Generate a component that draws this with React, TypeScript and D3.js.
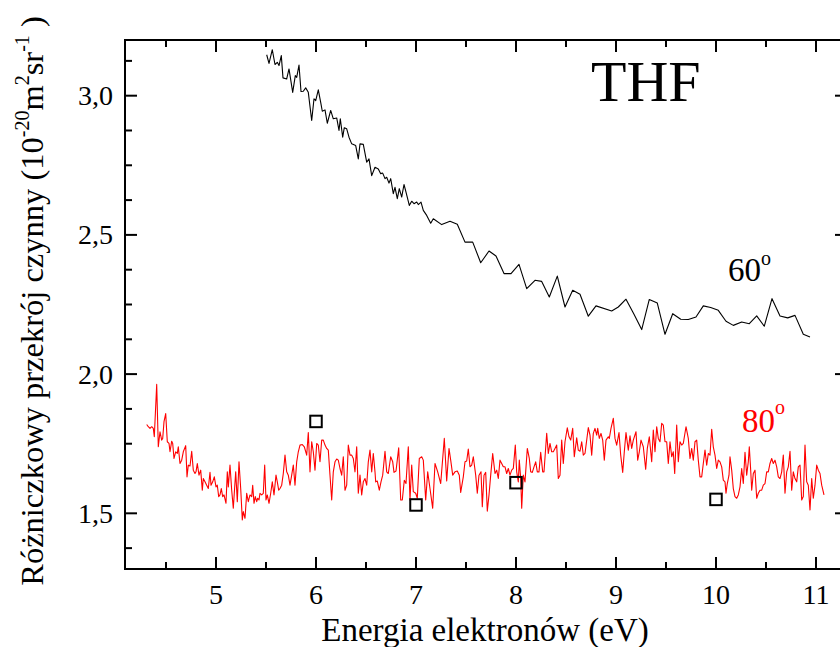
import React from 'react';
import * as d3 from 'd3';

// 60° series (black): [energy eV, cross section]
const black60: [number, number][] = [
  [5.507, 3.147], [5.53, 3.116], [5.563, 3.165], [5.59, 3.112], [5.613, 3.12], [5.63, 3.108],
  [5.653, 3.144], [5.67, 3.064], [5.707, 3.06], [5.73, 3.096], [5.767, 3.012], [5.793, 3.072],
  [5.807, 3.066], [5.83, 3.11], [5.85, 3.015], [5.873, 3.016], [5.897, 3.028], [5.923, 3.012],
  [5.957, 2.911], [5.98, 2.989], [5.997, 2.982], [6.023, 3.021], [6.047, 2.976], [6.063, 2.944],
  [6.09, 2.949], [6.113, 2.901], [6.147, 2.947], [6.173, 2.917], [6.207, 2.92], [6.23, 2.875],
  [6.243, 2.917], [6.267, 2.851], [6.283, 2.885], [6.307, 2.881], [6.33, 2.851], [6.357, 2.827],
  [6.397, 2.821], [6.423, 2.773], [6.44, 2.827], [6.473, 2.825], [6.507, 2.761], [6.53, 2.773],
  [6.557, 2.713], [6.59, 2.743], [6.623, 2.737], [6.647, 2.72], [6.667, 2.722], [6.69, 2.702],
  [6.707, 2.707], [6.73, 2.686], [6.747, 2.702], [6.773, 2.648], [6.79, 2.671], [6.813, 2.63],
  [6.833, 2.666], [6.857, 2.636], [6.88, 2.681], [6.9, 2.654], [6.933, 2.606], [6.957, 2.621],
  [6.98, 2.612], [7.007, 2.618], [7.023, 2.609], [7.05, 2.618], [7.073, 2.588], [7.107, 2.57],
  [7.147, 2.542], [7.173, 2.558], [7.257, 2.537], [7.34, 2.549], [7.413, 2.538], [7.49, 2.474],
  [7.567, 2.474], [7.647, 2.4], [7.73, 2.442], [7.8, 2.424], [7.88, 2.361], [7.95, 2.361],
  [8.03, 2.394], [8.107, 2.307], [8.19, 2.337], [8.257, 2.333], [8.333, 2.277], [8.413, 2.352],
  [8.49, 2.241], [8.567, 2.301], [8.64, 2.287], [8.723, 2.208], [8.8, 2.245], [8.957, 2.227],
  [9.023, 2.241], [9.1, 2.269], [9.18, 2.215], [9.257, 2.16], [9.333, 2.268], [9.413, 2.255],
  [9.49, 2.143], [9.567, 2.217], [9.647, 2.197], [9.723, 2.196], [9.8, 2.205], [9.873, 2.245],
  [9.947, 2.239], [10.023, 2.229], [10.1, 2.19], [10.173, 2.175], [10.257, 2.187], [10.333, 2.181],
  [10.407, 2.209], [10.483, 2.172], [10.56, 2.271], [10.64, 2.209], [10.717, 2.202], [10.79, 2.211],
  [10.873, 2.143], [10.94, 2.133],
];

// 80° series (red): [energy eV, cross section]
const red80: [number, number][] = [
  [4.307, 1.819], [4.323, 1.811], [4.34, 1.805], [4.357, 1.811], [4.373, 1.805], [4.383, 1.775],
  [4.407, 1.963], [4.423, 1.739], [4.44, 1.793], [4.457, 1.763], [4.467, 1.769], [4.48, 1.829],
  [4.497, 1.858], [4.513, 1.757], [4.53, 1.751], [4.54, 1.721], [4.557, 1.759], [4.567, 1.751],
  [4.58, 1.697], [4.597, 1.721], [4.613, 1.715], [4.623, 1.739], [4.64, 1.679], [4.657, 1.691],
  [4.673, 1.721], [4.697, 1.743], [4.71, 1.631], [4.723, 1.673], [4.74, 1.67], [4.757, 1.723],
  [4.773, 1.655], [4.79, 1.643], [4.8, 1.649], [4.813, 1.679], [4.83, 1.637], [4.847, 1.655],
  [4.863, 1.583], [4.873, 1.625], [4.89, 1.613], [4.907, 1.601], [4.923, 1.589], [4.94, 1.647],
  [4.95, 1.601], [4.967, 1.613], [4.983, 1.631], [5.0, 1.595], [5.013, 1.601], [5.027, 1.56],
  [5.04, 1.566], [5.053, 1.589], [5.067, 1.56], [5.08, 1.566], [5.1, 1.536], [5.113, 1.649],
  [5.123, 1.595], [5.14, 1.673], [5.157, 1.583], [5.173, 1.518], [5.197, 1.649], [5.213, 1.542],
  [5.23, 1.685], [5.247, 1.589], [5.263, 1.476], [5.273, 1.506], [5.29, 1.482], [5.307, 1.572],
  [5.323, 1.542], [5.34, 1.566], [5.357, 1.56], [5.367, 1.601], [5.38, 1.536], [5.393, 1.56],
  [5.407, 1.542], [5.417, 1.554], [5.43, 1.548], [5.44, 1.572], [5.457, 1.566], [5.473, 1.572],
  [5.487, 1.673], [5.5, 1.548], [5.513, 1.566], [5.53, 1.536], [5.547, 1.572], [5.563, 1.613],
  [5.58, 1.566], [5.6, 1.637], [5.613, 1.613], [5.627, 1.583], [5.64, 1.589], [5.657, 1.601],
  [5.673, 1.643], [5.69, 1.709], [5.707, 1.649], [5.723, 1.637], [5.74, 1.601], [5.757, 1.637],
  [5.773, 1.673], [5.79, 1.601], [5.807, 1.685], [5.823, 1.721], [5.84, 1.745], [5.863, 1.747],
  [5.883, 1.739], [5.907, 1.709], [5.923, 1.79], [5.94, 1.649], [5.957, 1.757], [5.973, 1.721],
  [5.99, 1.655], [6.007, 1.751], [6.023, 1.745], [6.04, 1.685], [6.057, 1.763], [6.073, 1.763],
  [6.09, 1.745], [6.107, 1.733], [6.123, 1.727], [6.14, 1.637], [6.157, 1.548], [6.173, 1.649],
  [6.19, 1.685], [6.207, 1.695], [6.223, 1.691], [6.24, 1.661], [6.257, 1.637], [6.273, 1.703],
  [6.29, 1.583], [6.307, 1.601], [6.323, 1.745], [6.34, 1.709], [6.357, 1.709], [6.373, 1.697],
  [6.39, 1.649], [6.407, 1.739], [6.423, 1.572], [6.44, 1.637], [6.457, 1.566], [6.473, 1.613],
  [6.49, 1.625], [6.507, 1.601], [6.523, 1.685], [6.54, 1.727], [6.557, 1.649], [6.573, 1.715],
  [6.59, 1.649], [6.597, 1.613], [6.613, 1.616], [6.633, 1.583], [6.65, 1.613], [6.667, 1.637],
  [6.69, 1.723], [6.707, 1.649], [6.723, 1.643], [6.747, 1.703], [6.767, 1.685], [6.78, 1.647],
  [6.8, 1.652], [6.827, 1.735], [6.847, 1.548], [6.863, 1.548], [6.883, 1.619], [6.9, 1.607],
  [6.923, 1.739], [6.94, 1.548], [6.957, 1.673], [6.973, 1.578], [6.997, 1.572], [7.013, 1.554],
  [7.033, 1.697], [7.057, 1.703], [7.073, 1.691], [7.097, 1.548], [7.117, 1.649], [7.133, 1.607],
  [7.167, 1.518], [7.19, 1.679], [7.217, 1.649], [7.247, 1.607], [7.283, 1.769], [7.307, 1.616],
  [7.33, 1.733], [7.347, 1.691], [7.367, 1.637], [7.39, 1.649], [7.413, 1.652], [7.433, 1.637],
  [7.447, 1.575], [7.473, 1.631], [7.49, 1.685], [7.507, 1.688], [7.523, 1.731], [7.54, 1.667],
  [7.557, 1.673], [7.573, 1.703], [7.597, 1.637], [7.613, 1.572], [7.63, 1.637], [7.65, 1.649],
  [7.663, 1.524], [7.68, 1.637], [7.697, 1.647], [7.713, 1.508], [7.73, 1.566], [7.747, 1.637],
  [7.767, 1.715], [7.79, 1.643], [7.807, 1.655], [7.823, 1.625], [7.84, 1.691], [7.857, 1.679],
  [7.873, 1.667], [7.89, 1.667], [7.907, 1.643], [7.923, 1.661], [7.94, 1.637], [7.957, 1.655],
  [7.973, 1.661], [7.993, 1.745], [8.007, 1.649], [8.023, 1.613], [8.033, 1.691], [8.047, 1.625],
  [8.057, 1.518], [8.073, 1.637], [8.09, 1.613], [8.113, 1.733], [8.133, 1.697], [8.147, 1.649],
  [8.163, 1.647], [8.18, 1.667], [8.197, 1.685], [8.213, 1.649], [8.23, 1.649], [8.247, 1.719],
  [8.267, 1.649], [8.28, 1.649], [8.307, 1.787], [8.323, 1.715], [8.34, 1.751], [8.357, 1.721],
  [8.373, 1.721], [8.39, 1.733], [8.407, 1.745], [8.423, 1.625], [8.44, 1.637], [8.457, 1.763],
  [8.473, 1.679], [8.49, 1.757], [8.513, 1.807], [8.53, 1.775], [8.547, 1.763], [8.567, 1.805],
  [8.583, 1.703], [8.607, 1.771], [8.623, 1.727], [8.64, 1.723], [8.657, 1.757], [8.673, 1.709],
  [8.69, 1.715], [8.723, 1.808], [8.74, 1.781], [8.757, 1.709], [8.773, 1.787], [8.79, 1.805],
  [8.807, 1.781], [8.817, 1.805], [8.833, 1.769], [8.85, 1.787], [8.867, 1.763], [8.883, 1.691],
  [8.9, 1.763], [8.923, 1.775], [8.933, 1.769], [8.95, 1.805], [8.973, 1.841], [8.99, 1.769],
  [9.007, 1.745], [9.03, 1.79], [9.047, 1.709], [9.067, 1.647], [9.083, 1.721], [9.1, 1.79],
  [9.123, 1.727], [9.14, 1.778], [9.157, 1.733], [9.173, 1.763], [9.2, 1.793], [9.217, 1.691],
  [9.233, 1.721], [9.25, 1.763], [9.273, 1.739], [9.297, 1.658], [9.313, 1.733], [9.333, 1.775],
  [9.357, 1.685], [9.373, 1.799], [9.39, 1.721], [9.407, 1.811], [9.423, 1.769], [9.44, 1.757],
  [9.457, 1.823], [9.473, 1.817], [9.49, 1.757], [9.507, 1.757], [9.523, 1.679], [9.54, 1.757],
  [9.557, 1.703], [9.573, 1.721], [9.587, 1.643], [9.607, 1.817], [9.623, 1.685], [9.64, 1.757],
  [9.657, 1.745], [9.673, 1.751], [9.7, 1.811], [9.723, 1.769], [9.74, 1.697], [9.757, 1.733],
  [9.773, 1.691], [9.79, 1.757], [9.807, 1.763], [9.823, 1.691], [9.84, 1.631], [9.857, 1.631],
  [9.873, 1.679], [9.89, 1.727], [9.907, 1.673], [9.923, 1.715], [9.94, 1.709], [9.957, 1.802],
  [9.973, 1.739], [9.99, 1.709], [10.007, 1.661], [10.023, 1.691], [10.04, 1.685], [10.057, 1.667],
  [10.073, 1.619], [10.09, 1.613], [10.1, 1.572], [10.113, 1.607], [10.13, 1.637], [10.14, 1.703],
  [10.157, 1.655], [10.173, 1.589], [10.19, 1.56], [10.207, 1.554], [10.223, 1.566], [10.24, 1.595],
  [10.257, 1.661], [10.273, 1.607], [10.29, 1.719], [10.307, 1.637], [10.323, 1.685], [10.333, 1.739],
  [10.347, 1.655], [10.357, 1.583], [10.373, 1.643], [10.39, 1.655], [10.407, 1.554], [10.423, 1.572],
  [10.44, 1.583], [10.457, 1.583], [10.473, 1.601], [10.49, 1.607], [10.507, 1.649], [10.523, 1.649],
  [10.54, 1.679], [10.557, 1.697], [10.573, 1.679], [10.59, 1.691], [10.607, 1.667], [10.623, 1.631],
  [10.64, 1.625], [10.657, 1.649], [10.673, 1.709], [10.69, 1.572], [10.707, 1.649], [10.723, 1.667],
  [10.74, 1.723], [10.757, 1.583], [10.773, 1.649], [10.79, 1.625], [10.807, 1.613], [10.823, 1.667],
  [10.84, 1.673], [10.857, 1.548], [10.873, 1.56], [10.89, 1.745], [10.907, 1.613], [10.923, 1.601],
  [10.94, 1.512], [10.957, 1.625], [10.973, 1.554], [10.99, 1.601], [11.007, 1.673], [11.023, 1.655],
  [11.04, 1.643], [11.057, 1.601], [11.08, 1.566],
];

// square markers (reference points)
const squareEnergy = [6, 7, 8, 10];
const squareValue = [1.83, 1.53, 1.61, 1.55];

const xMajorTicks = [5, 6, 7, 8, 9, 10, 11];
const xMinorTicks = [4.5, 5.5, 6.5, 7.5, 8.5, 9.5, 10.5];
const yMajorTicks = [1.5, 2.0, 2.5, 3.0];
const yMinorTicks = [1.375, 1.625, 1.75, 1.875, 2.125, 2.25, 2.375, 2.625, 2.75, 2.875, 3.125];

const W = 840;
const H = 647;
const L = 125, R = 847, T = 40, B = 569;
const FONT = 'Liberation Serif, Times New Roman, Times, serif';
const ts = { fontFamily: FONT };

export default function App() {
  const x = d3.scaleLinear().domain([4.09, 11.31]).range([L, R]);
  const y = d3.scaleLinear().domain([1.3, 3.2]).range([B, T]);
  const line = d3.line<[number, number]>().x(d => x(d[0])).y(d => y(d[1]));
  const fmt = (v: number) => v.toFixed(1).replace('.', ',');
  const majorLen = 12, minorLen = 7;
  const sq = 11.5;

  return (
    <svg width={W} height={H} style={{ position: 'absolute', left: 0, top: 0, background: '#fff' }}>
      <rect x={0} y={0} width={W} height={H} fill="#fff" />
      {/* data */}
      <path d={line(red80) || ''} fill="none" stroke="#ff0000" strokeWidth={1.1} strokeLinejoin="round" />
      <path d={line(black60) || ''} fill="none" stroke="#000" strokeWidth={1.1} strokeLinejoin="round" />
      {squareEnergy.map((e, i) => (
        <rect key={'s' + i} x={x(e) - sq / 2} y={y(squareValue[i]) - sq / 2} width={sq} height={sq}
          fill="none" stroke="#000" strokeWidth={2} />
      ))}
      {/* frame */}
      <rect x={L} y={T} width={R - L} height={B - T} fill="none" stroke="#000" strokeWidth={2} />
      {/* x ticks */}
      {xMajorTicks.map(t => (
        <g key={'xm' + t}>
          <line x1={x(t)} x2={x(t)} y1={B} y2={B - majorLen} stroke="#000" strokeWidth={2} />
          <line x1={x(t)} x2={x(t)} y1={T} y2={T + majorLen} stroke="#000" strokeWidth={2} />
          <text style={ts} x={x(t)} y={604} fontSize={28} textAnchor="middle" fill="#000">{t}</text>
        </g>
      ))}
      {xMinorTicks.map(t => (
        <g key={'xn' + t}>
          <line x1={x(t)} x2={x(t)} y1={B} y2={B - minorLen} stroke="#000" strokeWidth={2} />
          <line x1={x(t)} x2={x(t)} y1={T} y2={T + minorLen} stroke="#000" strokeWidth={2} />
        </g>
      ))}
      {/* y ticks */}
      {yMajorTicks.map(t => (
        <g key={'ym' + t}>
          <line x1={L} x2={L + majorLen} y1={y(t)} y2={y(t)} stroke="#000" strokeWidth={2} />
          <line x1={R} x2={R - majorLen} y1={y(t)} y2={y(t)} stroke="#000" strokeWidth={2} />
          <text style={ts} x={113} y={y(t) + 9.5} fontSize={28} textAnchor="end" fill="#000">{fmt(t)}</text>
        </g>
      ))}
      {yMinorTicks.map(t => (
        <g key={'yn' + t}>
          <line x1={L} x2={L + minorLen} y1={y(t)} y2={y(t)} stroke="#000" strokeWidth={2} />
          <line x1={R} x2={R - minorLen} y1={y(t)} y2={y(t)} stroke="#000" strokeWidth={2} />
        </g>
      ))}
      {/* axis titles */}
      <text style={ts} x={485} y={641} fontSize={33} textAnchor="middle" fill="#000">Energia elektronów (eV)</text>
      <text style={ts} transform="translate(43,301) rotate(-90)" fontSize={32.5} textAnchor="middle" fill="#000">
        Różniczkowy przekrój czynny (10
        <tspan fontSize={20} dy={-14}>-20</tspan>
        <tspan dy={14}>m</tspan>
        <tspan fontSize={20} dy={-14}>2</tspan>
        <tspan dy={14}>sr</tspan>
        <tspan fontSize={20} dy={-14}>-1</tspan>
        <tspan dy={14}> )</tspan>
      </text>
      {/* annotations */}
      <text style={ts} x={591} y={101} fontSize={58} fill="#000">THF</text>
      <text style={ts} x={728} y={281} fontSize={33} fill="#000">60<tspan fontSize={20} dy={-16}>o</tspan></text>
      <text style={ts} x={742} y={432} fontSize={33} fill="#ff0000">80<tspan fontSize={20} dy={-18}>o</tspan></text>
    </svg>
  );
}
